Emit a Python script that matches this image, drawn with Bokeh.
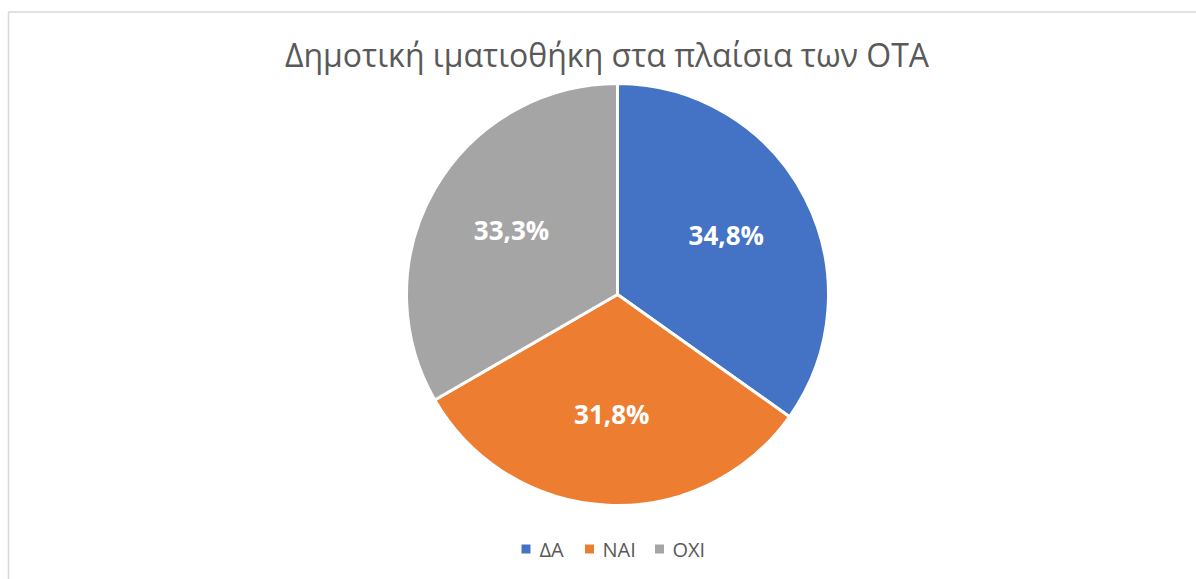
import math
from bokeh.plotting import figure
from bokeh.models import Range1d, ColumnDataSource
from bokeh.core.properties import value
from bokeh.embed import file_html
from bokeh.resources import INLINE

# ---- data ----
title_text = "Δημοτική ιματιοθήκη στα πλαίσια των ΟΤΑ"
categories = ["ΔΑ", "ΝΑΙ", "ΟΧΙ"]
percentages = [34.8, 31.8, 33.3]
labels = ["34,8%", "31,8%", "33,3%"]
colors = ["#4472C4", "#ED7D31", "#A5A5A5"]

# ---- layout (pixels) ----
W, H = 1196, 579
CX, CY = 617, 294          # pie centre offset inside the figure (from left / top)
R = 211
TEXT = "#595959"
FONT = "Open Sans"

p = figure(width=W, height=H, output_backend="svg", toolbar_location=None,
           x_range=Range1d(-CX, W - CX), y_range=Range1d(-(H - CY), CY),
           min_border=0)
p.axis.visible = False
p.grid.visible = False
p.outline_line_color = None
p.background_fill_color = "white"
p.border_fill_color = "white"

# chart-area border (left and top edges visible)
p.line(x=[-609, -609, W - CX], y=[-(H - CY), 282.5, 282.5],
       line_color="#D9D9D9", line_width=1.5)

# wedges
total = sum(percentages)
starts, ends, mids = [], [], []
cum = 0.0
for v in percentages:
    a0 = math.pi / 2 - 2 * math.pi * cum / total
    cum += v
    a1 = math.pi / 2 - 2 * math.pi * cum / total
    starts.append(a0)
    ends.append(a1)
    mids.append((a0 + a1) / 2)

src = ColumnDataSource(dict(start=starts, end=ends, color=colors, cat=categories))
p.wedge(x=0, y=0, radius=R, start_angle="start", end_angle="end",
        direction="clock", fill_color="color", line_color="white",
        line_width=3, source=src)

# data labels
lr = 0.58 * R
lsrc = ColumnDataSource(dict(
    x=[lr * math.cos(m) for m in mids],
    y=[lr * math.sin(m) + 3 for m in mids],
    t=labels))
p.text(x="x", y="y", text="t", source=lsrc, text_color="white",
       text_font=value(FONT), text_font_style="bold", text_font_size="26px",
       text_align="center", text_baseline="middle")

# title
p.text(x=[-10.5], y=[240], text=[title_text], text_color=TEXT,
       text_font=value(FONT), text_font_size="32px",
       text_align="center", text_baseline="alphabetic")

# legend (manual, horizontal)
sq_x = [-91.5, -28, 42]
tx_x = [-78, -15, 55]
p.rect(x=sq_x, y=[-254.5] * 3, width=9, height=9, fill_color=colors,
       line_color=None)
p.text(x=tx_x, y=[-255] * 3, text=categories, text_color=TEXT,
       text_font=value(FONT), text_font_size="20px",
       text_align="left", text_baseline="alphabetic")

open("out.html", "w").write(file_html(p, INLINE))
